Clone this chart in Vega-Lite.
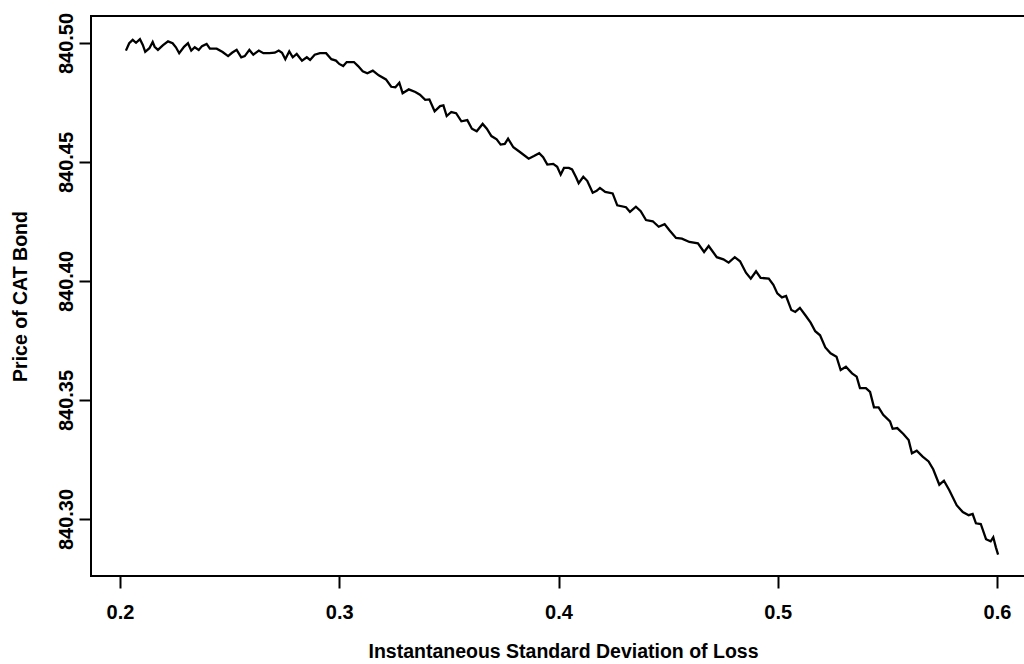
{
  "$schema": "https://vega.github.io/schema/vega-lite/v6.json",
  "width": 935,
  "height": 560,
  "autosize": {"type": "none"},
  "padding": {"left": 91, "top": 16, "right": 0, "bottom": 88},
  "background": "white",
  "config": {
    "view": {"stroke": "black", "strokeWidth": 2},
    "font": "Liberation Sans",
    "axis": {
      "grid": false,
      "domain": false,
      "tickColor": "black",
      "tickWidth": 2,
      "tickSize": 12,
      "labelColor": "black",
      "labelFontSize": 20,
      "labelFontWeight": "bold",
      "labelFont": "Liberation Sans",
      "titleColor": "black",
      "titleFontSize": 19.5,
      "titleFont": "Liberation Sans",
      "titleFontWeight": "bold",
      "labelFlush": false,
      "labelOverlap": false
    }
  },
  "data": {
    "values": [
      {"sd": 0.2027, "price": 840.4968},
      {"sd": 0.2042, "price": 840.4999},
      {"sd": 0.2058, "price": 840.5013},
      {"sd": 0.2073, "price": 840.5001},
      {"sd": 0.2091, "price": 840.5016},
      {"sd": 0.2104, "price": 840.4992},
      {"sd": 0.2115, "price": 840.4963},
      {"sd": 0.2134, "price": 840.4978},
      {"sd": 0.2149, "price": 840.5004},
      {"sd": 0.2158, "price": 840.4984},
      {"sd": 0.2173, "price": 840.4971},
      {"sd": 0.2195, "price": 840.4990},
      {"sd": 0.2219, "price": 840.5007},
      {"sd": 0.2240, "price": 840.4999},
      {"sd": 0.2255, "price": 840.4982},
      {"sd": 0.2270, "price": 840.4957},
      {"sd": 0.2292, "price": 840.4984},
      {"sd": 0.2310, "price": 840.4999},
      {"sd": 0.2325, "price": 840.4968},
      {"sd": 0.2341, "price": 840.4982},
      {"sd": 0.2359, "price": 840.4971},
      {"sd": 0.2374, "price": 840.4987},
      {"sd": 0.2395, "price": 840.4996},
      {"sd": 0.2410, "price": 840.4976},
      {"sd": 0.2441, "price": 840.4976},
      {"sd": 0.2468, "price": 840.4962},
      {"sd": 0.2493, "price": 840.4945},
      {"sd": 0.2511, "price": 840.4959},
      {"sd": 0.2532, "price": 840.4971},
      {"sd": 0.2553, "price": 840.4940},
      {"sd": 0.2569, "price": 840.4945},
      {"sd": 0.2590, "price": 840.4971},
      {"sd": 0.2608, "price": 840.4951},
      {"sd": 0.2633, "price": 840.4968},
      {"sd": 0.2654, "price": 840.4957},
      {"sd": 0.2681, "price": 840.4957},
      {"sd": 0.2706, "price": 840.4959},
      {"sd": 0.2724, "price": 840.4968},
      {"sd": 0.2739, "price": 840.4959},
      {"sd": 0.2754, "price": 840.4932},
      {"sd": 0.2772, "price": 840.4965},
      {"sd": 0.2788, "price": 840.4940},
      {"sd": 0.2806, "price": 840.4954},
      {"sd": 0.2830, "price": 840.4926},
      {"sd": 0.2852, "price": 840.4940},
      {"sd": 0.2867, "price": 840.4929},
      {"sd": 0.2888, "price": 840.4951},
      {"sd": 0.2912, "price": 840.4957},
      {"sd": 0.2940, "price": 840.4957},
      {"sd": 0.2964, "price": 840.4932},
      {"sd": 0.2985, "price": 840.4926},
      {"sd": 0.3000, "price": 840.4912},
      {"sd": 0.3018, "price": 840.4903},
      {"sd": 0.3034, "price": 840.4920},
      {"sd": 0.3067, "price": 840.4920},
      {"sd": 0.3086, "price": 840.4903},
      {"sd": 0.3107, "price": 840.4881},
      {"sd": 0.3128, "price": 840.4873},
      {"sd": 0.3153, "price": 840.4884},
      {"sd": 0.3180, "price": 840.4864},
      {"sd": 0.3213, "price": 840.4847},
      {"sd": 0.3237, "price": 840.4816},
      {"sd": 0.3256, "price": 840.4814},
      {"sd": 0.3274, "price": 840.4833},
      {"sd": 0.3289, "price": 840.4789},
      {"sd": 0.3317, "price": 840.4805},
      {"sd": 0.3347, "price": 840.4794},
      {"sd": 0.3368, "price": 840.4783},
      {"sd": 0.3392, "price": 840.4761},
      {"sd": 0.3411, "price": 840.4763},
      {"sd": 0.3435, "price": 840.4713},
      {"sd": 0.3460, "price": 840.4735},
      {"sd": 0.3475, "price": 840.4738},
      {"sd": 0.3490, "price": 840.4693},
      {"sd": 0.3511, "price": 840.4710},
      {"sd": 0.3533, "price": 840.4705},
      {"sd": 0.3557, "price": 840.4671},
      {"sd": 0.3584, "price": 840.4676},
      {"sd": 0.3605, "price": 840.4640},
      {"sd": 0.3627, "price": 840.4629},
      {"sd": 0.3654, "price": 840.4660},
      {"sd": 0.3673, "price": 840.4640},
      {"sd": 0.3694, "price": 840.4609},
      {"sd": 0.3718, "price": 840.4595},
      {"sd": 0.3736, "price": 840.4573},
      {"sd": 0.3755, "price": 840.4576},
      {"sd": 0.3770, "price": 840.4598},
      {"sd": 0.3794, "price": 840.4562},
      {"sd": 0.3824, "price": 840.4542},
      {"sd": 0.3864, "price": 840.4514},
      {"sd": 0.3888, "price": 840.4525},
      {"sd": 0.3912, "price": 840.4537},
      {"sd": 0.3930, "price": 840.4520},
      {"sd": 0.3949, "price": 840.4489},
      {"sd": 0.3976, "price": 840.4492},
      {"sd": 0.3994, "price": 840.4480},
      {"sd": 0.4010, "price": 840.4447},
      {"sd": 0.4025, "price": 840.4475},
      {"sd": 0.4047, "price": 840.4475},
      {"sd": 0.4062, "price": 840.4469},
      {"sd": 0.4080, "price": 840.4436},
      {"sd": 0.4092, "price": 840.4411},
      {"sd": 0.4113, "price": 840.4438},
      {"sd": 0.4131, "price": 840.4421},
      {"sd": 0.4156, "price": 840.4371},
      {"sd": 0.4174, "price": 840.4379},
      {"sd": 0.4189, "price": 840.4391},
      {"sd": 0.4213, "price": 840.4374},
      {"sd": 0.4247, "price": 840.4368},
      {"sd": 0.4268, "price": 840.4318},
      {"sd": 0.4308, "price": 840.4310},
      {"sd": 0.4326, "price": 840.4290},
      {"sd": 0.4353, "price": 840.4312},
      {"sd": 0.4375, "price": 840.4293},
      {"sd": 0.4399, "price": 840.4256},
      {"sd": 0.4430, "price": 840.4251},
      {"sd": 0.4457, "price": 840.4228},
      {"sd": 0.4484, "price": 840.4239},
      {"sd": 0.4505, "price": 840.4214},
      {"sd": 0.4536, "price": 840.4181},
      {"sd": 0.4563, "price": 840.4178},
      {"sd": 0.4597, "price": 840.4164},
      {"sd": 0.4636, "price": 840.4158},
      {"sd": 0.4664, "price": 840.4122},
      {"sd": 0.4685, "price": 840.4147},
      {"sd": 0.4722, "price": 840.4100},
      {"sd": 0.4752, "price": 840.4091},
      {"sd": 0.4776, "price": 840.4077},
      {"sd": 0.4804, "price": 840.4100},
      {"sd": 0.4828, "price": 840.4083},
      {"sd": 0.4855, "price": 840.4035},
      {"sd": 0.4877, "price": 840.4010},
      {"sd": 0.4901, "price": 840.4041},
      {"sd": 0.4922, "price": 840.4013},
      {"sd": 0.4959, "price": 840.4010},
      {"sd": 0.4980, "price": 840.3984},
      {"sd": 0.4998, "price": 840.3948},
      {"sd": 0.5019, "price": 840.3931},
      {"sd": 0.5038, "price": 840.3937},
      {"sd": 0.5062, "price": 840.3878},
      {"sd": 0.5080, "price": 840.3870},
      {"sd": 0.5101, "price": 840.3887},
      {"sd": 0.5126, "price": 840.3856},
      {"sd": 0.5150, "price": 840.3825},
      {"sd": 0.5171, "price": 840.3789},
      {"sd": 0.5193, "price": 840.3772},
      {"sd": 0.5217, "price": 840.3721},
      {"sd": 0.5241, "price": 840.3696},
      {"sd": 0.5268, "price": 840.3682},
      {"sd": 0.5287, "price": 840.3626},
      {"sd": 0.5311, "price": 840.3640},
      {"sd": 0.5339, "price": 840.3612},
      {"sd": 0.5360, "price": 840.3598},
      {"sd": 0.5375, "price": 840.3550},
      {"sd": 0.5402, "price": 840.3550},
      {"sd": 0.5421, "price": 840.3534},
      {"sd": 0.5439, "price": 840.3469},
      {"sd": 0.5460, "price": 840.3469},
      {"sd": 0.5481, "price": 840.3438},
      {"sd": 0.5512, "price": 840.3410},
      {"sd": 0.5524, "price": 840.3379},
      {"sd": 0.5545, "price": 840.3382},
      {"sd": 0.5573, "price": 840.3357},
      {"sd": 0.5597, "price": 840.3332},
      {"sd": 0.5612, "price": 840.3276},
      {"sd": 0.5634, "price": 840.3287},
      {"sd": 0.5661, "price": 840.3262},
      {"sd": 0.5688, "price": 840.3242},
      {"sd": 0.5709, "price": 840.3209},
      {"sd": 0.5737, "price": 840.3144},
      {"sd": 0.5758, "price": 840.3161},
      {"sd": 0.5782, "price": 840.3122},
      {"sd": 0.5816, "price": 840.3058},
      {"sd": 0.5844, "price": 840.3029},
      {"sd": 0.5871, "price": 840.3016},
      {"sd": 0.5889, "price": 840.3021},
      {"sd": 0.5904, "price": 840.2982},
      {"sd": 0.5926, "price": 840.2979},
      {"sd": 0.5950, "price": 840.2915},
      {"sd": 0.5971, "price": 840.2906},
      {"sd": 0.5983, "price": 840.2923},
      {"sd": 0.5995, "price": 840.2881},
      {"sd": 0.6005, "price": 840.2850}
    ]
  },
  "mark": {"type": "line", "color": "black", "strokeWidth": 2.3, "interpolate": "linear"},
  "encoding": {
    "x": {
      "field": "sd",
      "type": "quantitative",
      "scale": {"domain": [0.18677, 0.61323], "nice": false, "zero": false},
      "axis": {
        "title": "Instantaneous Standard Deviation of Loss",
        "values": [0.2, 0.3, 0.4, 0.5, 0.6],
        "format": ".1f",
        "labelPadding": 14,
        "labelBaseline": "top",
        "titleBaseline": "alphabetic",
        "titleY": 81,
        "titleX": 472
      }
    },
    "y": {
      "field": "price",
      "type": "quantitative",
      "scale": {"domain": [840.27605, 840.51134], "nice": false, "zero": false},
      "axis": {
        "title": "Price of CAT Bond",
        "values": [840.30, 840.35, 840.40, 840.45, 840.50],
        "format": ".2f",
        "labelAngle": 270,
        "labelAlign": "center",
        "labelBaseline": "alphabetic",
        "labelPadding": 7,
        "titleAngle": 270,
        "titleAlign": "center",
        "titleBaseline": "alphabetic",
        "titleX": -65,
        "titleY": 280
      }
    }
  }
}
